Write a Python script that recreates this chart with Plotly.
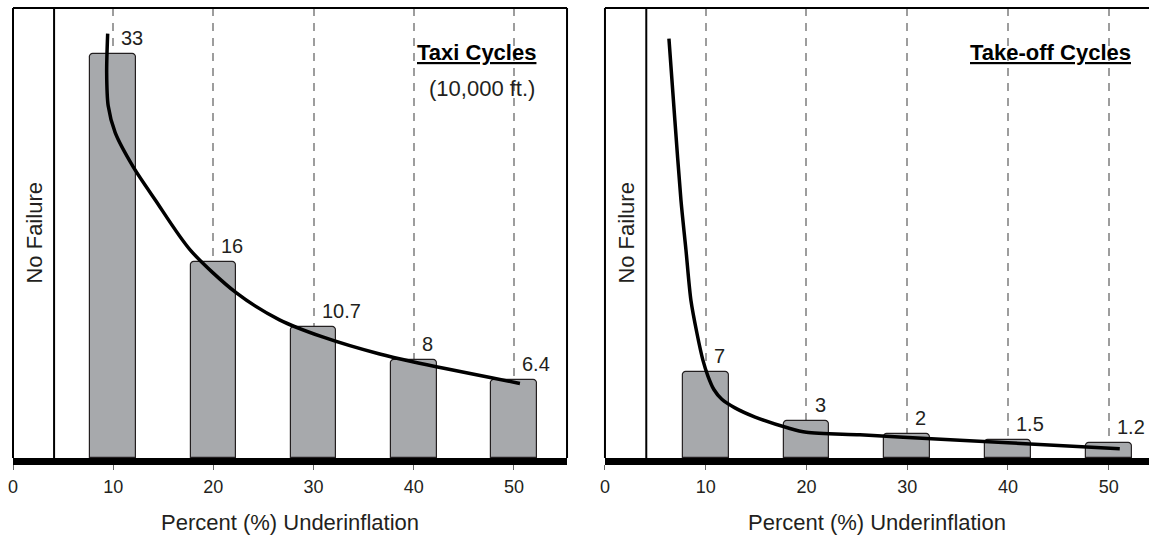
import plotly.graph_objects as go

# Bar data
underinflation = [10, 20, 30, 40, 50]
taxi_cycles = [33, 16, 10.7, 8, 6.4]
takeoff_cycles = [7, 3, 2, 1.5, 1.2]
tick_values = [0, 10, 20, 30, 40, 50]
no_failure_limit = 4.1

# Fitted curves
taxi_curve_x = [9.45, 9.35, 9.5, 10.2, 12.0, 14.2, 17.7, 22.3, 26.6, 30.9, 36.6, 40.0, 50.6]
taxi_curve_y = [34.7, 31.5, 28.8, 26.6, 23.8, 21.1, 17.0, 13.5, 11.3, 9.9, 8.5, 7.85, 6.1]
takeoff_curve_x = [6.35, 6.94, 7.54, 8.04, 8.53, 9.13, 9.72, 10.22, 10.81, 11.6, 12.9,
                   14.9, 18.2, 20.0, 25.3, 29.6, 40.0, 51.1]
takeoff_curve_y = [34.3, 27.6, 21.1, 17.0, 12.9, 10.2, 8.0, 6.7, 5.6, 4.8, 4.1,
                   3.35, 2.45, 2.1, 1.9, 1.7, 1.25, 0.75]

BAR_FILL = '#a7a9ac'
INK = '#231f20'
FONT = 'Liberation Sans, Arial, sans-serif'

fig = go.Figure()


def add_panel(n, values, cx, cy, title, subtitle, right_border):
    xa = 'x' if n == 1 else 'x%d' % n
    ya = 'y' if n == 1 else 'y%d' % n

    fig.add_trace(go.Bar(
        x=underinflation, y=values, width=4.55,
        marker=dict(color=BAR_FILL, line=dict(color=INK, width=1.2), cornerradius=4),
        xaxis=xa, yaxis=ya, hoverinfo='skip'
    ))
    fig.add_trace(go.Scatter(
        x=cx, y=cy, mode='lines',
        line=dict(color='black', width=3.5, shape='spline', smoothing=0.8),
        xaxis=xa, yaxis=ya, hoverinfo='skip'
    ))

    # value labels
    for cat, v in zip(underinflation, values):
        fig.add_annotation(
            x=cat + 0.6, y=v, xref=xa, yref=ya, text=str(v),
            showarrow=False, xanchor='left', yanchor='bottom', yshift=3,
            font=dict(family=FONT, size=20, color=INK)
        )

    fig.add_annotation(
        x=no_failure_limit / 2, y=0.5, xref=xa, yref=ya + ' domain',
        text='No Failure', textangle=-90, showarrow=False,
        xanchor='center', yanchor='middle',
        font=dict(family=FONT, size=22, color=INK)
    )
    fig.add_annotation(
        x=52.4, y=0.9, xref=xa, yref=ya + ' domain', xanchor='right', yanchor='middle',
        text='<b><u>' + title + '</u></b>', showarrow=False,
        font=dict(family=FONT, size=22, color='black')
    )
    if subtitle:
        fig.add_annotation(
            x=52.3, y=0.822, xref=xa, yref=ya + ' domain', xanchor='right', yanchor='middle',
            text=subtitle, showarrow=False,
            font=dict(family=FONT, size=22, color=INK)
        )

    # frame + "no failure" divider
    line = dict(color='black', width=2)
    fig.add_shape(type='line', xref=xa + ' domain', yref=ya + ' domain',
                  x0=0, x1=0, y0=0, y1=1, line=line)
    fig.add_shape(type='line', xref=xa + ' domain', yref=ya + ' domain',
                  x0=0, x1=1, y0=1, y1=1, line=line)
    if right_border:
        fig.add_shape(type='line', xref=xa + ' domain', yref=ya + ' domain',
                      x0=1, x1=1, y0=0, y1=1, line=line)
    fig.add_shape(type='line', xref=xa, yref=ya + ' domain',
                  x0=no_failure_limit, x1=no_failure_limit, y0=0, y1=1, line=line)


add_panel(1, taxi_cycles, taxi_curve_x, taxi_curve_y, 'Taxi Cycles', '(10,000 ft.)', True)
add_panel(2, takeoff_cycles, takeoff_curve_x, takeoff_curve_y, 'Take-off Cycles', None, False)

xaxis_common = dict(
    tickvals=tick_values, ticks='outside', ticklen=5, tickcolor='#666', tickwidth=1,
    tickfont=dict(family=FONT, size=18, color=INK), ticklabelstandoff=1,
    showline=True, linecolor='black', linewidth=7,
    showgrid=True, gridcolor='#9d9d9d', gridwidth=2, griddash='8px,7px',
    zeroline=False, fixedrange=True,
    title=dict(text='Percent (%) Underinflation', standoff=22,
               font=dict(family=FONT, size=22, color=INK)),
)
yaxis_common = dict(range=[0, 36.8], visible=False, showgrid=False, zeroline=False,
                    fixedrange=True)

fig.update_layout(
    width=1149, height=539,
    margin=dict(l=13, r=0, t=8, b=81),
    paper_bgcolor='white', plot_bgcolor='white',
    showlegend=False, bargap=0, hovermode=False,
    xaxis=dict(domain=[0, 0.4877], range=[0, 55.3], anchor='y', **xaxis_common),
    xaxis2=dict(domain=[0.5211, 1], range=[0, 54], anchor='y2', **xaxis_common),
    yaxis=dict(anchor='x', **yaxis_common),
    yaxis2=dict(anchor='x2', **yaxis_common),
)

# the page body has a default 8px margin; drop it so the figure fills the window
fig.write_html("out.html", config={'displayModeBar': False},
               post_script="document.body.style.margin='0';")
